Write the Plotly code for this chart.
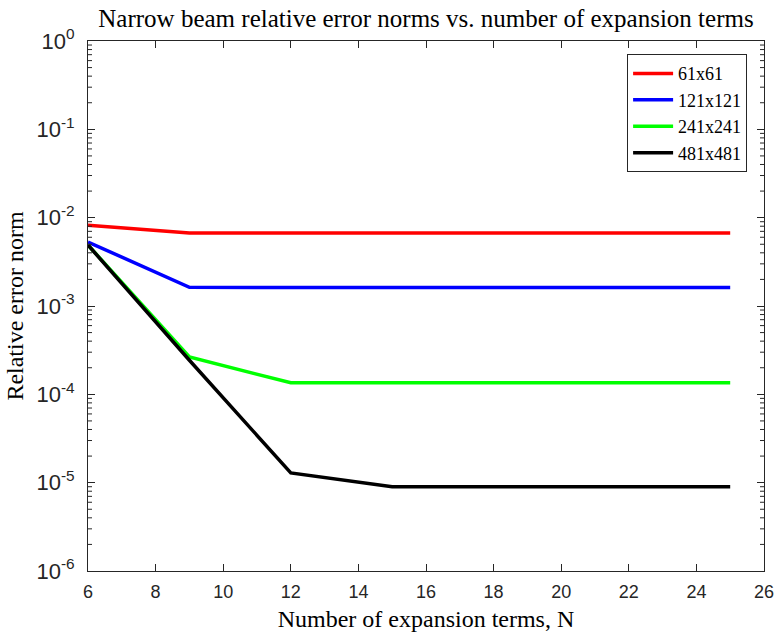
import plotly.graph_objects as go

# Number of expansion terms (x) and relative error norms for each grid size
n_terms = [6, 9, 12, 15, 18, 21, 24, 25]

err_61 = [0.0082, 0.0067, 0.0067, 0.0067, 0.0067, 0.0067, 0.0067, 0.0067]
err_121 = [0.0053, 0.00163, 0.00162, 0.00162, 0.00162, 0.00162, 0.00162, 0.00162]
err_241 = [0.0049, 0.000265, 0.000135, 0.000135, 0.000135, 0.000135, 0.000135, 0.000135]
err_481 = [0.0049, 0.000243, 1.29e-5, 9.0e-6, 9.0e-6, 9.0e-6, 9.0e-6, 9.0e-6]

series_names = ["61x61", "121x121", "241x241", "481x481"]
series_values = [err_61, err_121, err_241, err_481]
series_colors = ["#ff0000", "#0000ff", "#00ff00", "#000000"]

x_ticks = list(range(6, 27, 2))
y_exponents = list(range(-6, 1))
y_ticks = [10.0 ** e for e in y_exponents]
y_ticktext = [f"10<sup>{e}</sup>" for e in y_exponents]

SERIF = "Liberation Serif, Times New Roman, serif"
SANS = "Liberation Sans, Arial, Helvetica, sans-serif"
AXIS_COLOR = "#262626"

fig = go.Figure()
for name, vals, col in zip(series_names, series_values, series_colors):
    fig.add_trace(go.Scatter(
        x=n_terms, y=vals, mode="lines", name=name,
        line=dict(color=col, width=3.5),
    ))

# Minor log ticks (2..9 within each decade) on the left and right frame edges
minor_shapes = []
for e in y_exponents[:-1]:
    for m in range(2, 10):
        yv = m * 10.0 ** e
        for anchor, x0, x1 in ((0, 0, 4), (1, -4, 0)):
            minor_shapes.append(dict(
                type="line", xref="paper", yref="y",
                xsizemode="pixel", xanchor=anchor, x0=x0, x1=x1,
                y0=yv, y1=yv, line=dict(color=AXIS_COLOR, width=1),
            ))

fig.update_layout(
    width=776, height=632,
    margin=dict(l=88, r=12, t=41, b=61),
    paper_bgcolor="white", plot_bgcolor="white",
    title=dict(
        text="Narrow beam relative error norms vs. number of expansion terms",
        font=dict(family=SERIF, size=25, color="black"),
        x=0.5, xref="paper", xanchor="center",
        y=1 - 18 / 632, yref="container", yanchor="middle",
    ),
    legend=dict(
        x=0.975, y=0.975, xanchor="right", yanchor="top",
        bgcolor="white", bordercolor=AXIS_COLOR, borderwidth=1,
        font=dict(family=SERIF, size=18, color="black"),
        itemwidth=40,
    ),
    showlegend=True,
    shapes=minor_shapes,
)

fig.update_xaxes(
    range=[6, 26], tickvals=x_ticks, automargin=False,
    ticks="inside", ticklen=7, tickwidth=1, tickcolor=AXIS_COLOR,
    showline=True, linecolor=AXIS_COLOR, linewidth=1, mirror="ticks",
    showgrid=False, zeroline=False,
    tickfont=dict(family=SANS, size=18, color=AXIS_COLOR),
    ticklabelstandoff=4,
    title=dict(text="Number of expansion terms, N",
               font=dict(family=SERIF, size=24, color="black"), standoff=11),
)

fig.update_yaxes(
    type="log", range=[-6, 0], automargin=False,
    tickmode="array", tickvals=y_ticks, ticktext=y_ticktext,
    ticks="inside", ticklen=7, tickwidth=1, tickcolor=AXIS_COLOR,
    showline=True, linecolor=AXIS_COLOR, linewidth=1, mirror="ticks",
    showgrid=False, zeroline=False,
    tickfont=dict(family=SANS, size=22, color=AXIS_COLOR),
    ticklabelstandoff=8,
    title=dict(text="Relative error norm",
               font=dict(family=SERIF, size=24, color="black"), standoff=6),
)

fig.write_html("out.html")
